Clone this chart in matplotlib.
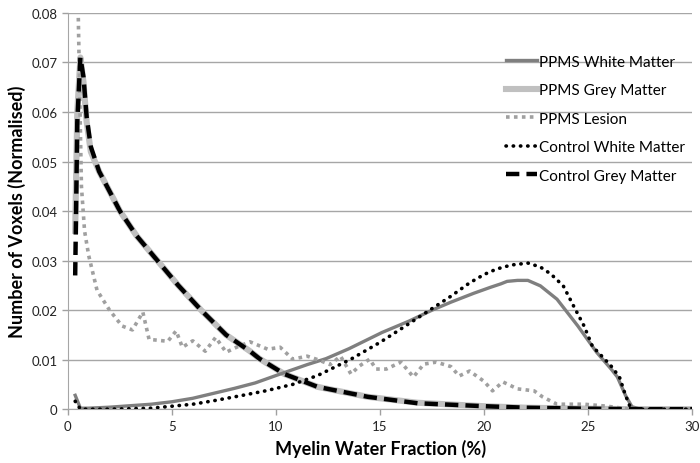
import matplotlib.pyplot as plt

plt.rcParams['font.family'] = ['Lato', 'DejaVu Sans']

# Myelin water fraction (%) sample points and normalised voxel counts
wm_x = [0.35, 0.6, 1, 2, 3, 4, 5, 6, 7, 8, 9, 10, 11.5, 12.4, 13.5, 15.1, 16.4, 17.5,
        18.4, 19.5, 20.3, 20.8, 21.1, 21.6, 22.1, 22.7, 23.5, 24.5, 25.4, 26.1, 26.4,
        26.8, 27.1, 27.5, 30]
ppms_wm = [0.0028, 0.0002, 0.0002, 0.0004, 0.0007, 0.0010, 0.0015, 0.0022, 0.0032, 0.0042,
           0.0053, 0.0068, 0.0090, 0.0102, 0.0122, 0.0155, 0.0178, 0.0200, 0.0216, 0.0234,
           0.0246, 0.0253, 0.0258, 0.0260, 0.0260, 0.0249, 0.0222, 0.0168, 0.0115, 0.0081,
           0.0065, 0.0027, 0.0005, 0.0, 0.0]

gm_x = [0.35, 0.45, 0.6, 0.75, 0.9, 1.1, 1.5, 2.0, 2.5, 3.3, 4.3, 5.3, 6.4, 7.6, 8.75, 9.2,
        10.4, 12, 14.4, 16.8, 20, 22, 25, 27, 30]
ppms_gm = [0.036, 0.060, 0.071, 0.066, 0.058, 0.052, 0.048, 0.044, 0.040, 0.035, 0.030,
           0.025, 0.020, 0.015, 0.0117, 0.0102, 0.0071, 0.0045, 0.0025, 0.0013, 0.0006,
           0.0003, 0.0001, 0.0, 0.0]
ctrl_gm = [0.027, 0.058, 0.071, 0.067, 0.059, 0.053, 0.048, 0.044, 0.040, 0.035, 0.030,
           0.025, 0.020, 0.015, 0.0117, 0.0102, 0.0071, 0.0045, 0.0025, 0.0012, 0.0006,
           0.0003, 0.0001, 0.0, 0.0]

les_x = [0.5, 0.65, 0.8, 1.0, 1.4, 2.0, 2.6, 3.1, 3.6, 3.9, 4.8, 5.2, 5.5, 6.0, 6.6, 7.1,
         7.6, 8.1, 8.75, 9.6, 10.2, 10.8, 11.5, 12.0, 12.6, 13.1, 13.6, 14.0, 14.5, 14.8,
         15.3, 16.0, 16.6, 17.1, 17.7, 18.4, 18.8, 19.3, 20.0, 20.4, 20.9, 21.6, 22.4,
         22.8, 23.5, 24.8, 25.9, 27, 30]
ppms_lesion = [0.079, 0.045, 0.036, 0.031, 0.024, 0.020, 0.0168, 0.016, 0.0196, 0.0141,
               0.0137, 0.0158, 0.0125, 0.0138, 0.0117, 0.0145, 0.0115, 0.0125, 0.0136,
               0.0121, 0.0125, 0.0101, 0.0107, 0.0100, 0.0090, 0.0107, 0.0071, 0.0087,
               0.0101, 0.0081, 0.0081, 0.0095, 0.0065, 0.0091, 0.0095, 0.0086, 0.0067,
               0.0077, 0.0056, 0.0037, 0.0055, 0.0041, 0.0037, 0.0025, 0.0010, 0.0010,
               0.0006, 0.0, 0.0]

cwm_x = [0.35, 0.6, 2, 4, 6, 7, 8.4, 9.5, 10.8, 12, 13.6, 15, 16, 17.2, 18.4, 19.3, 20,
         20.6, 21.3, 22.1, 22.7, 23.2, 23.8, 24.3, 24.8, 25.2, 25.7, 26.1, 26.5, 26.8,
         27.0, 27.3, 30]
ctrl_wm = [0.0016, 0.0, 0.0, 0.0002, 0.0010, 0.0017, 0.0028, 0.0037, 0.0050, 0.0068,
           0.0101, 0.0135, 0.0162, 0.0195, 0.0228, 0.0255, 0.0272, 0.0283, 0.0291, 0.0295,
           0.0287, 0.0273, 0.0249, 0.0208, 0.0168, 0.0127, 0.0105, 0.0087, 0.0065, 0.0027,
           0.0006, 0.0, 0.0]

fig, ax = plt.subplots(figsize=(7, 4.64), dpi=100)
fig.subplots_adjust(left=0.097, right=0.989, bottom=0.116, top=0.970)

ax.plot(wm_x, ppms_wm, color='#7f7f7f', lw=2.4, label='PPMS White Matter', zorder=3)
ax.plot(gm_x, ppms_gm, color='#c0c0c0', lw=4.4, label='PPMS Grey Matter', zorder=2)
ax.plot(les_x, ppms_lesion, color='#a0a0a0', lw=2.6, linestyle=(0, (1, 1.2)),
        label='PPMS Lesion', zorder=3)
ax.plot(cwm_x, ctrl_wm, color='black', lw=2.6, linestyle=(0, (0.1, 1.9)),
        dash_capstyle='round', label='Control White Matter', zorder=4)
ax.plot(gm_x, ctrl_gm, color='black', lw=3.2, linestyle=(0, (3, 1.6)),
        label='Control Grey Matter', zorder=4)

ax.set_xlim(0, 30)
ax.set_ylim(0, 0.08)
ax.set_xticks([0, 5, 10, 15, 20, 25, 30])
ax.set_yticks([0, 0.01, 0.02, 0.03, 0.04, 0.05, 0.06, 0.07, 0.08])
ax.set_yticklabels(['0', '0.01', '0.02', '0.03', '0.04', '0.05', '0.06', '0.07', '0.08'])
ax.tick_params(labelsize=9.5, labelcolor='#222222', length=4, width=1, direction='out',
               color='#a0a0a0')
ax.yaxis.grid(True, color='#a6a6a6', lw=1)
ax.set_axisbelow(True)
for s in ['top', 'right']:
    ax.spines[s].set_visible(False)
for s in ['left', 'bottom']:
    ax.spines[s].set_color('#a6a6a6')

ax.set_xlabel('Myelin Water Fraction (%)', fontsize=13, fontweight='bold', labelpad=5)
ax.set_ylabel('Number of Voxels (Normalised)', fontsize=13, fontweight='bold', labelpad=4)

ax.legend(loc='upper left', bbox_to_anchor=(0.692, 0.91), frameon=False, fontsize=11,
          handlelength=2.0, handletextpad=0.15, labelspacing=0.95, borderaxespad=0)

fig.savefig('out.png')
